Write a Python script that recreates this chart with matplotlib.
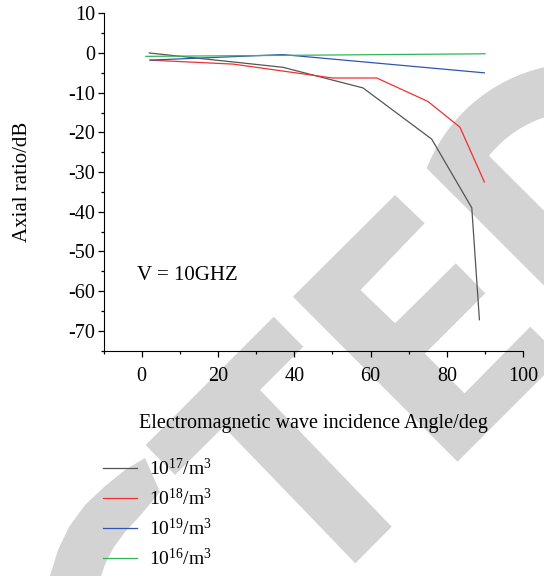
import numpy as np
import matplotlib
matplotlib.use("Agg")
import matplotlib.pyplot as plt
from matplotlib.patches import Polygon
from matplotlib.transforms import Affine2D
from matplotlib.ticker import MultipleLocator

plt.rcParams["font.family"] = ["Liberation Serif", "DejaVu Serif"]
plt.rcParams["mathtext.fontset"] = "custom"
plt.rcParams["mathtext.rm"] = "Liberation Serif"
plt.rcParams["mathtext.default"] = "regular"
plt.rcParams["axes.unicode_minus"] = False

# data
angle_17 = [2, 37, 58, 76, 86.5, 88.5]
ar_17 = [0, -3.6, -8.8, -21.7, -39, -67.2]
angle_18 = [2.2, 24, 50, 61.6, 75, 83.4, 89.8]
ar_18 = [-1.8, -2.8, -6.3, -6.3, -12.2, -18.7, -32.5]
angle_19 = [2.2, 37, 89.8]
ar_19 = [-1.8, -0.4, -5.0]
angle_16 = [1.1, 37, 90]
ar_16 = [-0.85, -0.6, -0.2]

labels = [r"10$^{17}$/m$^{3}$", r"10$^{18}$/m$^{3}$", r"10$^{19}$/m$^{3}$", r"10$^{16}$/m$^{3}$"]
colors = ["#555555", "#f03030", "#2f55b5", "#33b556"]

W, H = 544, 576
fig = plt.figure(figsize=(W / 100, H / 100), dpi=100)
ax = fig.add_axes([103.5 / W, 1 - 350.7 / H, 419.8 / W, 337.4 / H])
ax.patch.set_alpha(0)

# watermark, drawn in pixel coordinates behind everything
px = Affine2D().scale(1 / W, -1 / H).translate(0, 1) + fig.transFigure
wm = "#d3d3d3"

t_shape = [(145.6, 445), (273.8, 316.7), (303.3, 346.7), (260, 390), (391.7, 526.7),
           (355.3, 563.3), (223.6, 426.7), (175, 475)]
e_shape = [(292.9, 296.7), (395.1, 195), (424.6, 223.3), (360.5, 290), (395.1, 323.3),
           (455.8, 263.3), (485.3, 293.3), (424.9, 353.7), (464.5, 393.3), (530.3, 326.7),
           (544, 340.4), (544, 375.2), (457.5, 461.7)]
cx, cy = 580.7, 228.6
a_out = np.radians(np.linspace(-158.6, -102.8, 40))
a_in = np.radians(np.linspace(-108.3, -141.6, 40))
hook = [(544, 285.6)]
hook += list(zip(cx + 165.4 * np.cos(a_out), cy + 165.4 * np.sin(a_out)))
hook += list(zip(cx + 117 * np.cos(a_in), cy + 117 * np.sin(a_in)))
hook += [(544, 210.7)]
arc_bl = [(50, 576), (58, 550), (69, 527), (85, 505), (104, 487), (125, 470), (145, 458),
          (160, 492), (139, 517), (125, 532), (114, 547), (106, 562), (101, 576)]
for pts in (t_shape, e_shape, hook, arc_bl):
    fig.add_artist(Polygon(pts, closed=True, facecolor=wm, edgecolor="none",
                           transform=px, zorder=-1))

lines = []
for xs, ys, c in zip([angle_17, angle_18, angle_19, angle_16],
                     [ar_17, ar_18, ar_19, ar_16], colors):
    ln, = ax.plot(xs, ys, color=c, lw=0.9)
    lines.append(ln)

ax.set_xlim(-10, 100)
ax.set_ylim(-75, 10)
ax.xaxis.set_major_locator(MultipleLocator(20))
ax.xaxis.set_minor_locator(MultipleLocator(10))
ax.yaxis.set_major_locator(MultipleLocator(10))
ax.yaxis.set_minor_locator(MultipleLocator(5))
ax.spines["top"].set_visible(False)
ax.spines["right"].set_visible(False)
ax.tick_params(which="major", direction="out", length=4.5, width=0.9, labelsize=14.5)
ax.tick_params(which="minor", direction="out", length=2.5, width=0.9)
ax.tick_params(axis="x", pad=7)
ax.tick_params(axis="y", pad=1.5)

ax.set_xlabel("Electromagnetic wave incidence Angle/deg", fontsize=14.5)
ax.xaxis.set_label_coords(0.5, -0.215)
ax.xaxis.label.set_va("center")
ax.set_ylabel("Axial ratio/dB", fontsize=15)
ax.yaxis.set_label_coords(-0.192, 0.5)
ax.yaxis.label.set_va("center")

ax.text(-1.2, -56, "V = 10GHZ", fontsize=15, va="center", ha="left")

fig.legend(lines, labels, loc="upper left", bbox_to_anchor=(103 / W, 1 - 458 / H),
           frameon=False, fontsize=14, borderpad=0, borderaxespad=0,
           handlelength=1.75, handletextpad=0.6, labelspacing=0.45)

fig.savefig("out.png", dpi=100, facecolor="white")
